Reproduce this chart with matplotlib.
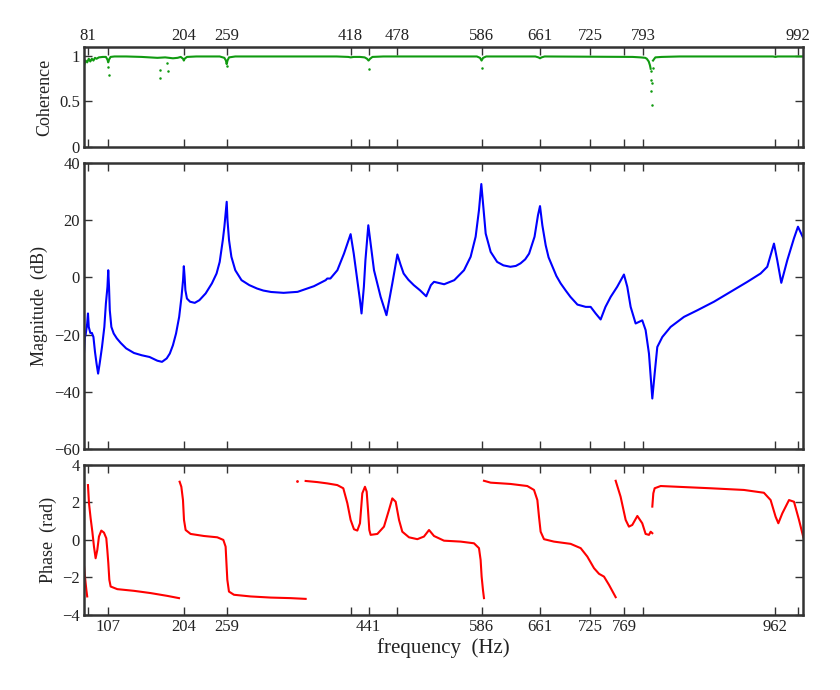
import numpy as np
import matplotlib
matplotlib.use("Agg")
import matplotlib.pyplot as plt

# ---------------- data ----------------
tick_freqs = [81, 107, 204, 259, 418, 441, 478, 586, 661, 725, 769, 793, 962, 992]
top_tick_labels = [81, 204, 259, 418, 478, 586, 661, 725, 793, 992]
bottom_tick_labels = [107, 204, 259, 441, 586, 661, 725, 769, 962]

coh_freq = [76, 78, 80, 82, 84, 86, 88, 90, 92, 95, 100, 104, 106, 107, 108, 110, 115, 130,
            150, 160, 170, 180, 190, 196, 200, 203, 204, 205, 208, 220, 250, 256, 258, 259,
            260, 262, 270, 400, 415, 418, 422, 430, 436, 439, 441, 443, 446, 460, 580, 584,
            586, 588, 592, 655, 659, 661, 663, 667, 780, 790, 796, 798, 800.5, 802, 803]
coh_val = [0.90, 0.95, 0.93, 0.97, 0.94, 0.97, 0.95, 0.98, 0.97, 0.985, 0.99, 0.99, 0.96,
           0.93, 0.96, 0.99, 0.995, 0.995, 0.99, 0.985, 0.98, 0.985, 0.975, 0.98, 0.99, 0.97,
           0.95, 0.97, 0.99, 0.995, 0.995, 0.98, 0.95, 0.91, 0.95, 0.985, 0.995, 0.995, 0.99,
           0.985, 0.99, 0.99, 0.985, 0.97, 0.95, 0.97, 0.99, 0.995, 0.995, 0.98, 0.95, 0.98,
           0.995, 0.995, 0.985, 0.975, 0.985, 0.995, 0.99, 0.985, 0.98, 0.97, 0.94, 0.90, 0.86]
coh2_freq = [806, 809, 817, 840, 900, 960, 963, 966, 998]
coh2_val = [0.95, 0.985, 0.99, 0.995, 0.995, 0.995, 0.99, 0.995, 0.995]
coh_out_freq = [107, 107.5, 174, 174, 183, 183.5, 259, 441, 586, 803, 804, 804.5, 804, 804.3, 806]
coh_out_val = [0.88, 0.79, 0.85, 0.755, 0.92, 0.84, 0.89, 0.855, 0.866, 0.83, 0.74, 0.70,
               0.616, 0.46, 0.866]

mag_freq = [76, 77, 78, 80, 81, 82, 84, 86, 88, 90, 92, 94, 96, 99, 102, 104, 106, 107, 108,
            109, 111, 114, 118, 123, 130, 140, 150, 160, 170, 176, 182, 186, 190, 194, 198,
            201, 203, 204, 205, 206, 208, 212, 218, 224, 232, 240, 246, 250, 254, 256, 258,
            259, 260, 262, 265, 270, 278, 288, 298, 306, 316, 332, 350, 371, 386, 388, 392, 401,
            409.5, 418, 422, 426.5, 430, 432, 435, 437, 440.7, 443.7, 448, 456.5, 464, 471.5,
            478, 482, 486, 492, 499, 507, 515, 521, 525, 538, 551, 563.5, 572, 578.4, 582.7,
            585.7, 588.3, 591.3, 597.7, 606, 614, 623, 630, 636, 642, 647, 654, 658.4, 661,
            664, 668.3, 672, 677, 682, 687.5, 694, 700, 709, 719.6, 726, 732.4, 738.8, 745,
            751.7, 760, 768.7, 773, 777.3, 783.7, 792.2, 796.5, 800.8, 805.1, 808.1, 811.5,
            818, 828.6, 845.7, 862.8, 884.2, 905.6, 927, 944, 952.6, 961.2, 965.4, 970.6,
            978.3, 986.8, 992, 999]
mag_db = [-26, -21, -20, -16.1, -12.6, -17.3, -19.4, -19.4, -20.8, -26, -30.1, -33.6, -30.1,
          -24.3, -17.3, -9.1, -3.3, 2.5, -3.3, -11.5, -17.3, -19.6, -21.3, -22.9, -24.8,
          -26.4, -27.2, -27.8, -29.1, -29.5, -28.3, -26.6, -23.7, -19.6, -13.8, -6.8, -0.97,
          3.9, 0.2, -4.5, -7.4, -8.5, -8.9, -7.96, -5.6, -2.1, 1.35, 5.4, 13, 17.6, 23.5,
          26.4, 20, 13, 7.2, 2.5, -0.97, -2.7, -3.9, -4.6, -5.1, -5.4, -5.05, -3.07, -0.97,
          -0.4, -0.4, 2.5, 8.3, 15.1, 8.3, -0.97, -7.96, -12.6, -3.3, 6.0, 18.2, 11.8, 2.5,
          -6.8, -13.2, -2.1, 8.0, 4.5, 1.35, -0.8, -2.7, -4.5, -6.6, -2.7, -1.55, -2.4, -0.97,
          2.5, 7.2, 14.2, 23.5, 32.6, 24.6, 15.3, 8.9, 5.4, 4.2, 3.7, 4.0, 4.9, 6.3, 8.3,
          14.2, 21.7, 24.9, 18.2, 11.2, 7.0, 3.7, 0.5, -2.1, -4.6, -6.8, -9.5, -10.3, -10.3,
          -12.6, -14.7, -10.3, -6.8, -3.3, 1.0, -3.3, -10.3, -16.1, -15.0, -18.4, -26.6,
          -42.3, -33.6, -24.3, -20.8, -17.3, -13.8, -11.5, -8.5, -5.05, -1.56, 1.35, 3.7,
          11.8, 6.0, -1.9, 6.0, 13.6, 17.7, 13.6]

ph1_freq = [76, 77, 78, 79, 80]
ph1_rad = [-1.42, -1.9, -2.31, -2.7, -3.02]
ph2_freq = [81, 82.3, 84.4, 86.6, 88.7, 90.8, 93, 95.1, 98.1, 101.5, 104.5, 105.8, 107.1,
            108.4, 110.1, 118.6, 140, 161.4, 182.8, 197.8]
ph2_rad = [2.93, 1.96, 1.16, 0.44, -0.36, -0.98, -0.53, 0.18, 0.5, 0.39, 0.09, -0.53, -1.24,
           -2.13, -2.49, -2.63, -2.72, -2.84, -2.99, -3.11]
ph3_freq = [198.6, 200.8, 202.9, 204.2, 206.3, 212.7, 229.8, 246.9, 254.7, 257.6, 258.9,
            259.8, 261.9, 268.3, 289.7, 315.4, 341, 360.3]
ph3_rad = [3.11, 2.84, 2.13, 1.07, 0.53, 0.32, 0.21, 0.14, 0.0, -0.36, -1.42, -2.13, -2.76,
           -2.93, -3.02, -3.08, -3.11, -3.15]
ph4_freq = [360.3, 375.3, 388.1, 400.9, 408.6, 413.8, 418, 422.3, 426.6, 430, 433, 436.4,
            438.6, 440.3, 442, 443.7, 452.3, 460.8, 467.2, 471.5, 475.8, 480.1, 484.3, 492.9,
            503.6, 512.1, 518.6, 525, 537.8, 559.2, 576.3, 582.7, 584.8, 586.1, 587.8, 589.1]
ph4_rad = [3.15, 3.09, 3.02, 2.93, 2.76, 1.96, 1.07, 0.57, 0.5, 0.89, 2.49, 2.84, 2.58, 1.6,
           0.53, 0.27, 0.32, 0.71, 1.6, 2.22, 2.04, 1.07, 0.44, 0.14, 0.04, 0.18, 0.53, 0.21,
           -0.04, -0.09, -0.18, -0.44, -1.07, -1.96, -2.67, -3.11]
ph4_lone_freq = [349.6]
ph4_lone_rad = [3.16]
ph5_freq = [589.1, 597.7, 623.3, 644.7, 653.3, 657.6, 659.7, 661.8, 666.1, 678.9, 700.3,
            713.2, 721.7, 730.3, 736.7, 743.1, 749.5, 758.1]
ph5_rad = [3.16, 3.06, 2.99, 2.88, 2.67, 2.13, 1.24, 0.44, 0.04, -0.09, -0.21, -0.44, -0.89,
           -1.51, -1.81, -1.96, -2.4, -3.06]
ph6_freq = [758.1, 764.4, 770.9, 775.1, 779.4, 785.9, 792.2, 796.5, 800.8, 803, 805.1]
ph6_rad = [3.16, 2.31, 1.07, 0.71, 0.8, 1.28, 0.89, 0.32, 0.27, 0.44, 0.36]
ph7_freq = [805.1, 806.4, 808.1, 815.8, 837.2, 880, 922.7, 948.3, 956.9, 963.3, 966.8, 971.9,
            980.5, 986.9, 993.3, 998.9]
ph7_rad = [1.78, 2.49, 2.76, 2.88, 2.84, 2.76, 2.67, 2.52, 2.13, 1.24, 0.89, 1.42, 2.13, 2.04,
           1.07, 0.14]

# ---------------- figure ----------------
plt.rcParams['font.family'] = ['Liberation Serif', 'DejaVu Serif']

fig = plt.figure(figsize=(8.4, 6.9), dpi=100)
L, W = 0.100, 0.856
ax1 = fig.add_axes([L, 0.787, W, 0.145])
ax2 = fig.add_axes([L, 0.349, W, 0.415])
ax3 = fig.add_axes([L, 0.109, W, 0.217])

XMIN, XMAX = 75.9, 998.5
spine_c = '#333333'
text_c = '#222222'

for ax in (ax1, ax2, ax3):
    ax.set_xlim(XMIN, XMAX)
    for s in ax.spines.values():
        s.set_linewidth(1.8)
        s.set_color(spine_c)
    ax.set_xticks(tick_freqs)
    ax.tick_params(axis='both', direction='in', length=6, width=1.0, color=spine_c,
                   top=True, right=True, labelsize=12, labelcolor=text_c, pad=3)

green = '#109a10'
blue = '#0000ff'
red = '#ff0000'
LW = 1.5

# coherence
ax1.plot(coh_freq, coh_val, color=green, lw=LW)
ax1.plot(coh2_freq, coh2_val, color=green, lw=LW)
ax1.plot(coh_out_freq, coh_out_val, ls='none', color=green, marker='o', ms=1.8, mew=0)
ax1.set_ylim(0, 1.1)
ax1.set_yticks([0, 0.5, 1])
ax1.set_yticklabels(['0', '0.5', '1'])
ax1.tick_params(axis='x', labeltop=True, labelbottom=False, pad=2)
ax1.set_xticklabels([str(t) if t in top_tick_labels else '' for t in tick_freqs])
ax1.set_ylabel('Coherence', fontsize=13, color=text_c)

# magnitude
ax2.plot(mag_freq, mag_db, color=blue, lw=LW)
ax2.set_ylim(-60, 40)
ax2.set_yticks([-60, -40, -20, 0, 20, 40])
ax2.set_yticklabels(['\u221260', '\u221240', '\u221220', '0', '20', '40'])
ax2.tick_params(axis='x', labelbottom=False)
ax2.set_ylabel('Magnitude  (dB)', fontsize=13, color=text_c)

# phase
for fx, fy in [(ph1_freq, ph1_rad), (ph2_freq, ph2_rad), (ph3_freq, ph3_rad),
               (ph4_freq, ph4_rad), (ph5_freq, ph5_rad), (ph6_freq, ph6_rad),
               (ph7_freq, ph7_rad)]:
    ax3.plot(fx, fy, color=red, lw=LW)
ax3.plot(ph4_lone_freq, ph4_lone_rad, ls='none', color=red, marker='o', ms=2.0, mew=0)
ax3.set_ylim(-4, 4)
ax3.set_yticks([-4, -2, 0, 2, 4])
ax3.set_yticklabels(['\u22124', '\u22122', '0', '2', '4'])
ax3.set_xticklabels([str(t) if t in bottom_tick_labels else '' for t in tick_freqs])
ax3.set_ylabel('Phase  (rad)', fontsize=13, color=text_c)
ax3.set_xlabel('frequency  (Hz)', fontsize=15, color=text_c, labelpad=2)

fig.align_ylabels([ax1, ax2, ax3])

fig.savefig('out.png', dpi=100)
